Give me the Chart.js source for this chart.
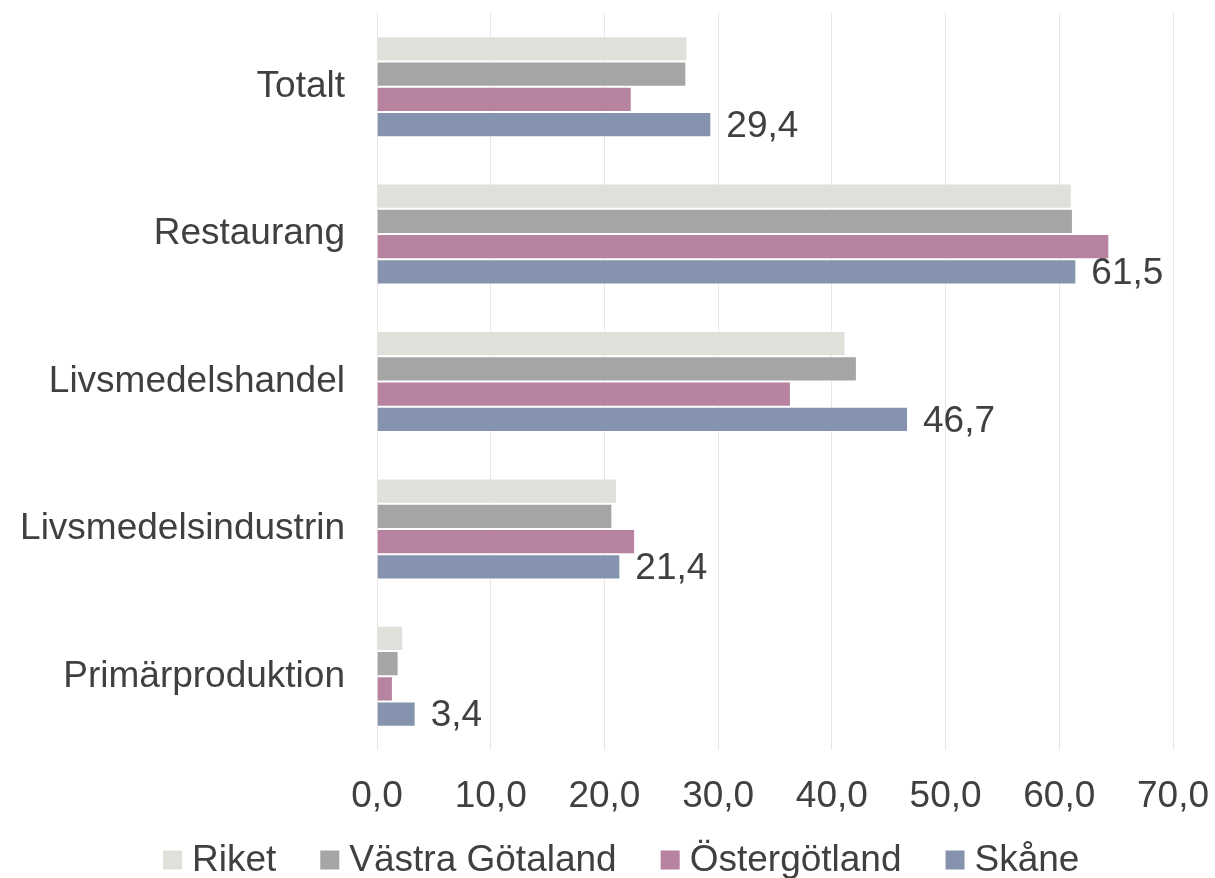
<!DOCTYPE html>
<html>
<head>
<meta charset="utf-8">
<script src="https://cdn.jsdelivr.net/npm/chart.js@4.4.1/dist/chart.umd.min.js"></script>
<style>
  html, body { margin: 0; padding: 0; background: #ffffff; }
  #wrap { width: 1215px; height: 878px; }
</style>
</head>
<body>
<div id="wrap"><canvas id="c" width="1215" height="878"></canvas></div>
<script>
const categories = ["Totalt", "Restaurang", "Livsmedelshandel", "Livsmedelsindustrin", "Primärproduktion"];
const seriesNames = ["Riket", "Västra Götaland", "Östergötland", "Skåne"];
const riket = [27.3, 61.1, 41.2, 21.1, 2.3];
const vastraGotaland = [27.2, 61.2, 42.2, 20.7, 1.9];
const ostergotland = [22.4, 64.4, 36.4, 22.7, 1.4];
const skane = [29.4, 61.5, 46.7, 21.4, 3.4];
const xTicks = [0, 10, 20, 30, 40, 50, 60, 70];
const colors = ["#E0DFDA", "#A5A5A5", "#B783A0", "#8593AE"];

const fmt = v => v.toFixed(1).replace(".", ",");
const FONT = "'Liberation Sans', Arial, sans-serif";
const TEXT = "#404040";

const labelPlugin = {
  id: "skaneLabels",
  afterDatasetsDraw(chart) {
    const ctx = chart.ctx;
    const meta = chart.getDatasetMeta(3);
    ctx.save();
    ctx.font = "37px " + FONT;
    ctx.fillStyle = TEXT;
    ctx.textAlign = "left";
    ctx.textBaseline = "middle";
    meta.data.forEach((el, i) => {
      ctx.fillText(fmt(skane[i]), el.x + 15, el.y + 2);
    });
    ctx.restore();
  }
};

const legendPlugin = {
  id: "customLegend",
  afterDraw(chart) {
    const ctx = chart.ctx;
    ctx.save();
    ctx.font = "37px " + FONT;
    const boxW = 19, boxH = 19, gapBox = 10, gapItem = 44;
    const widths = seriesNames.map(n => ctx.measureText(n).width);
    let x = 163;
    const cy = 860;
    ctx.textBaseline = "middle";
    ctx.textAlign = "left";
    seriesNames.forEach((n, i) => {
      ctx.fillStyle = colors[i];
      ctx.fillRect(x, cy - boxH / 2, boxW, boxH);
      x += boxW + gapBox;
      ctx.fillStyle = TEXT;
      ctx.fillText(n, x, cy + 1);
      x += widths[i] + gapItem;
    });
    ctx.restore();
  }
};

const datasetValues = [riket, vastraGotaland, ostergotland, skane];

new Chart(document.getElementById("c"), {
  type: "bar",
  data: {
    labels: categories,
    datasets: seriesNames.map((name, i) => ({
      label: name,
      data: datasetValues[i],
      backgroundColor: colors[i],
      borderColor: "rgba(255,255,255,0.55)",
      borderWidth: 1,
      categoryPercentage: 0.685,
      barPercentage: 1.0
    }))
  },
  options: {
    indexAxis: "y",
    responsive: false,
    animation: false,
    layout: { padding: { top: 13, right: 42, bottom: 58, left: 0 } },
    plugins: {
      legend: { display: false },
      tooltip: { enabled: false }
    },
    scales: {
      x: {
        min: 0,
        max: 70,
        afterBuildTicks(scale) { scale.ticks = xTicks.map(v => ({ value: v })); },
        afterFit(scale) {
          scale.height = 70;
          scale.paddingLeft = 0; scale.paddingRight = 0;
          scale.paddingTop = 0; scale.paddingBottom = 0;
        },
        grid: { color: "#EAE3E5", lineWidth: 1, drawTicks: false },
        border: { display: false },
        ticks: {
          padding: 25,
          color: TEXT,
          font: { family: FONT, size: 37 },
          callback: v => fmt(v),
          maxRotation: 0
        }
      },
      y: {
        afterFit(scale) {
          scale.width = 377;
          scale.paddingLeft = 0; scale.paddingRight = 0;
          scale.paddingTop = 0; scale.paddingBottom = 0;
        },
        grid: { display: false, drawTicks: false },
        border: { display: false },
        ticks: {
          padding: 32,
          color: TEXT,
          font: { family: FONT, size: 37 }
        }
      }
    }
  },
  plugins: [labelPlugin, legendPlugin]
});
</script>
</body>
</html>
